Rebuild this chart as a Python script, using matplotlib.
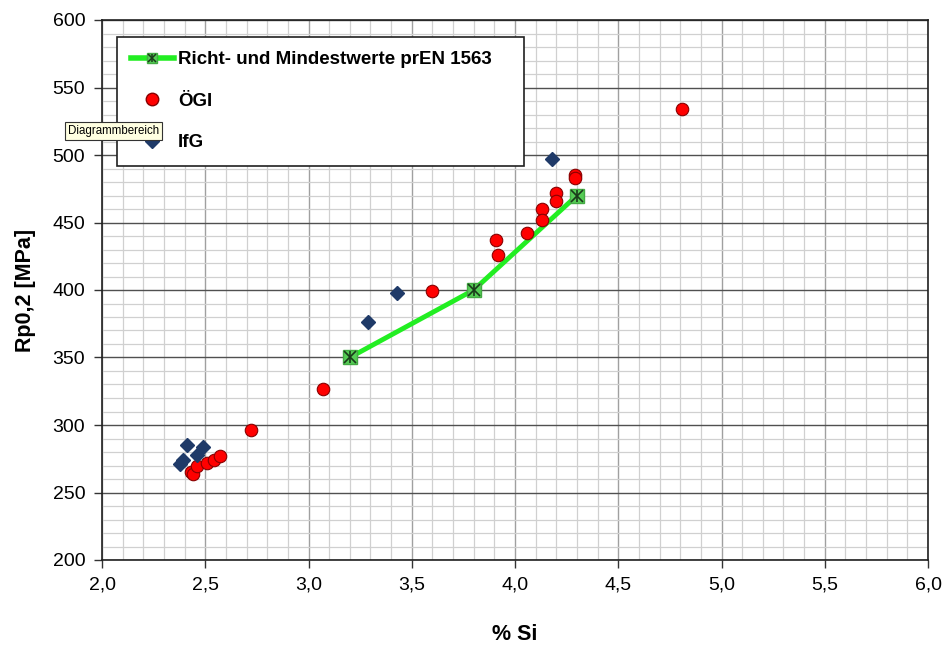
import numpy as np
import matplotlib
matplotlib.use("Agg")
import matplotlib.pyplot as plt
from matplotlib.ticker import MultipleLocator, FuncFormatter
from matplotlib.legend_handler import HandlerTuple
from matplotlib.lines import Line2D

# Richt- und Mindestwerte prEN 1563
norm_si = [3.2, 3.8, 4.3]
norm_rp = [350, 400, 470]

# ÖGI
oegi_si = [4.81, 4.29, 4.29, 4.20, 4.20, 4.13, 4.13, 4.06, 3.91, 3.92,
           3.60, 3.07, 2.72, 2.43, 2.44, 2.46, 2.51, 2.54, 2.57]
oegi_rp = [534, 485, 483, 472, 466, 460, 452, 442, 437, 426,
           399, 327, 296, 265, 264, 270, 272, 274, 277]

# IfG
ifg_si = [4.18, 3.43, 3.29, 2.41, 2.49, 2.46, 2.39, 2.38]
ifg_rp = [497, 398, 376, 285, 284, 278, 274, 271]

plt.rcParams['font.family'] = ['Liberation Sans', 'DejaVu Sans']

fig = plt.figure(figsize=(9.46, 6.46), dpi=100)
ax = fig.add_axes([102 / 946, 1 - 560 / 646, 826 / 946, 540 / 646])

ax.set_xlim(2.0, 6.0)
ax.set_ylim(200, 600)
ax.xaxis.set_major_locator(MultipleLocator(0.5))
ax.xaxis.set_minor_locator(MultipleLocator(0.1))
ax.yaxis.set_major_locator(MultipleLocator(50))
ax.yaxis.set_minor_locator(MultipleLocator(10))
ax.xaxis.set_major_formatter(FuncFormatter(lambda v, p: f"{v:.1f}".replace('.', ',')))

ax.grid(True, which='minor', color='#d0d0d0', linewidth=0.9)
ax.grid(True, which='major', axis='x', color='#a0a0a0', linewidth=1.0)
ax.grid(True, which='major', axis='y', color='#505050', linewidth=1.0)
ax.set_axisbelow(True)
ax.tick_params(which='minor', length=0)
ax.tick_params(which='major', direction='out', length=6, width=1, color='#333333',
               labelsize=14, pad=6)
for s in ax.spines.values():
    s.set_color('#202020')
    s.set_linewidth(1.2)

# Normwerte
line, = ax.plot(norm_si, norm_rp, color='#22ee22', linewidth=3.5, zorder=3)
ax.plot(norm_si, norm_rp, linestyle='none', marker='s', markersize=10,
        markerfacecolor='#55cc55', markeredgecolor='#44aa44', zorder=4)
ax.plot(norm_si, norm_rp, linestyle='none', marker='x', markersize=8,
        markeredgecolor='#1a3a1a', markeredgewidth=1.2, zorder=5)
ax.plot(norm_si, norm_rp, linestyle='none', marker='|', markersize=8,
        markeredgecolor='#1a3a1a', markeredgewidth=1.2, zorder=5)

ax.plot(oegi_si, oegi_rp, linestyle='none', marker='o', markersize=9,
        markerfacecolor='#ff0000', markeredgecolor='#880000', markeredgewidth=0.8, zorder=6)
ax.plot(ifg_si, ifg_rp, linestyle='none', marker='D', markersize=7.5,
        markerfacecolor='#1f3a68', markeredgecolor='#1f3a68', zorder=6)

# Legende
h_norm = (Line2D([], [], color='#22ee22', linewidth=4),
          Line2D([], [], linestyle='none', marker='s', markersize=7,
                 markerfacecolor='#55cc55', markeredgecolor='#44aa44'),
          Line2D([], [], linestyle='none', marker='x', markersize=6,
                 markeredgecolor='#1a3a1a', markeredgewidth=1.1),
          Line2D([], [], linestyle='none', marker='|', markersize=6,
                 markeredgecolor='#1a3a1a', markeredgewidth=1.1))
h_oegi = Line2D([], [], linestyle='none', marker='o', markersize=9,
                markerfacecolor='#ff0000', markeredgecolor='#880000')
h_ifg = Line2D([], [], linestyle='none', marker='D', markersize=7,
               markerfacecolor='#1f3a68', markeredgecolor='#1f3a68')
leg = ax.legend([h_norm, h_oegi, h_ifg],
                ['Richt- und Mindestwerte prEN 1563', 'ÖGI', 'IfG'],
                handler_map={tuple: HandlerTuple(ndivide=1, pad=0)},
                loc='upper left', bbox_to_anchor=(0.018, 0.0, 0.493, 0.968),
                mode='expand', fancybox=False, framealpha=1, edgecolor='#202020',
                prop={'weight': 'bold', 'size': 13.5}, labelspacing=1.3,
                handlelength=2.3, handletextpad=0.2, borderpad=0.75,
                borderaxespad=0)
leg.get_frame().set_linewidth(1.2)
leg.set_zorder(10)

ax.set_ylabel('Rp0,2 [MPa]', fontsize=15.5, fontweight='bold', labelpad=12)
ax.set_xlabel('% Si', fontsize=15.5, fontweight='bold', labelpad=22)

# Tooltip
fig.text(68 / 946, 1 - 131 / 646, 'Diagrammbereich', fontsize=8.3, va='center', ha='left',
         bbox=dict(boxstyle='square,pad=0.25', facecolor='#ffffe1', edgecolor='#333333',
                   linewidth=0.8), zorder=20)

fig.savefig('out.png', dpi=100)
